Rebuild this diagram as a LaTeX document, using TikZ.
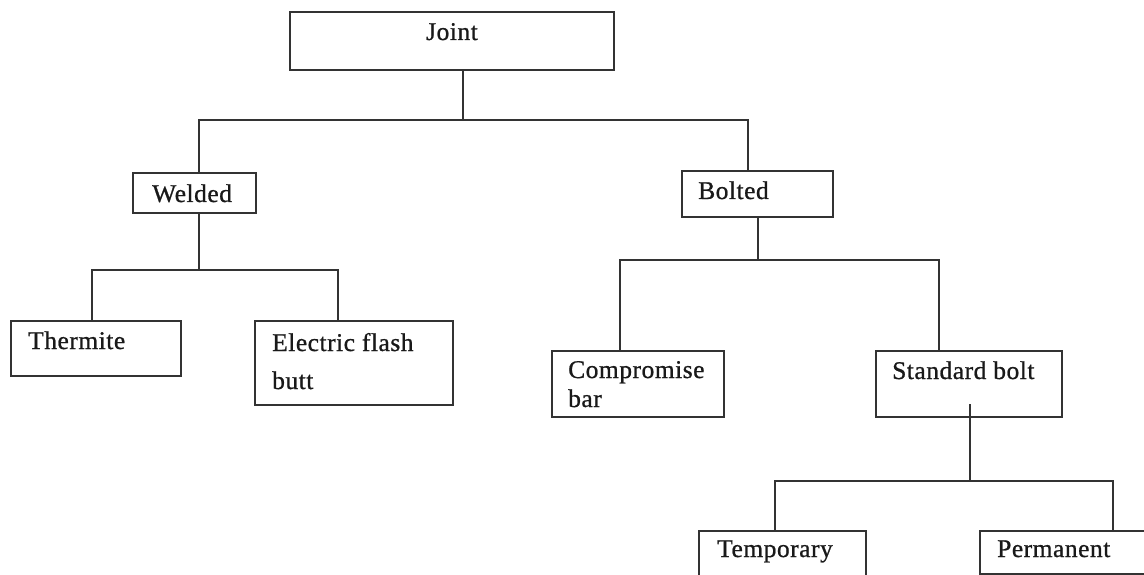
\documentclass[tikz,border=0pt]{standalone}
\usepackage{fontspec}
\setmainfont[LetterSpace=2,FakeBold=0.8]{Liberation Serif}
\begin{document}
\begin{tikzpicture}[x=1pt,y=-1pt,
  box/.style={draw=black!80,line width=1.3pt,fill=white,rectangle,inner sep=0pt},
  lbl/.style={anchor=base west,inner sep=0pt,font=\fontsize{25.5}{30}\selectfont,text=black!90},
  link/.style={draw=black!80,line width=1.3pt}]
\useasboundingbox (0,0) rectangle (1144,575);
\clip (0,0) rectangle (1144,575);
% boxes
\node[box,minimum width=324pt,minimum height=58pt] (joint) at (452,41) {};
\node[box,minimum width=123pt,minimum height=40pt] (welded) at (194.5,193) {};
\node[box,minimum width=151pt,minimum height=46pt] (bolted) at (757.5,194) {};
\node[box,minimum width=170pt,minimum height=55pt] (thermite) at (96,348.5) {};
\node[box,minimum width=198pt,minimum height=84pt] (electric) at (354,363) {};
\node[box,minimum width=172pt,minimum height=66pt] (compromise) at (638,384) {};
\node[box,minimum width=186pt,minimum height=66pt] (standard) at (969,384) {};
\node[box,minimum width=167pt,minimum height=60pt] (temporary) at (782.5,561) {};
\node[box,minimum width=180pt,minimum height=43pt] (permanent) at (1070,552.5) {};
% labels
\node[lbl] (tjoint) at (426,40) {Joint};
\node[lbl] (twelded) at (152,202) {Welded};
\node[lbl] (tbolted) at (698,199) {Bolted};
\node[lbl] (tthermite) at (28,349) {Thermite};
\node[lbl] (telectric) at (272,351) {Electric flash};
\node[lbl] (tbutt) at (272,389) {butt};
\node[lbl] (tcompromise) at (568,378) {Compromise};
\node[lbl] (tbar) at (568,407) {bar};
\node[lbl] (tstandard) at (892,379) {Standard bolt};
\node[lbl] (ttemporary) at (717,557) {Temporary};
\node[lbl] (tpermanent) at (997,557) {Permanent};
% bend coordinates
\coordinate (j1) at (463,120);
\coordinate (jL) at (199,120);
\coordinate (jR) at (748,120);
\coordinate (w1) at (199,270);
\coordinate (wL) at (92,270);
\coordinate (wR) at (338,270);
\coordinate (b1) at (758,260);
\coordinate (bL) at (620,260);
\coordinate (bR) at (939,260);
\coordinate (s0) at (970,404);
\coordinate (s1) at (970,481);
\coordinate (sL) at (775,481);
\coordinate (sR) at (1113,481);
% connectors
\draw[link] (joint.south -| j1) -- (j1);
\draw[link] (welded.north -| jL) -- (jL) -- (jR) -- (bolted.north -| jR);
\draw[link] (welded.south -| w1) -- (w1);
\draw[link] (thermite.north -| wL) -- (wL) -- (wR) -- (electric.north -| wR);
\draw[link] (bolted.south -| b1) -- (b1);
\draw[link] (compromise.north -| bL) -- (bL) -- (bR) -- (standard.north -| bR);
\draw[link] (s0) -- (s1);
\draw[link] (temporary.north -| sL) -- (sL) -- (sR) -- (permanent.north -| sR);
\end{tikzpicture}
\end{document}
